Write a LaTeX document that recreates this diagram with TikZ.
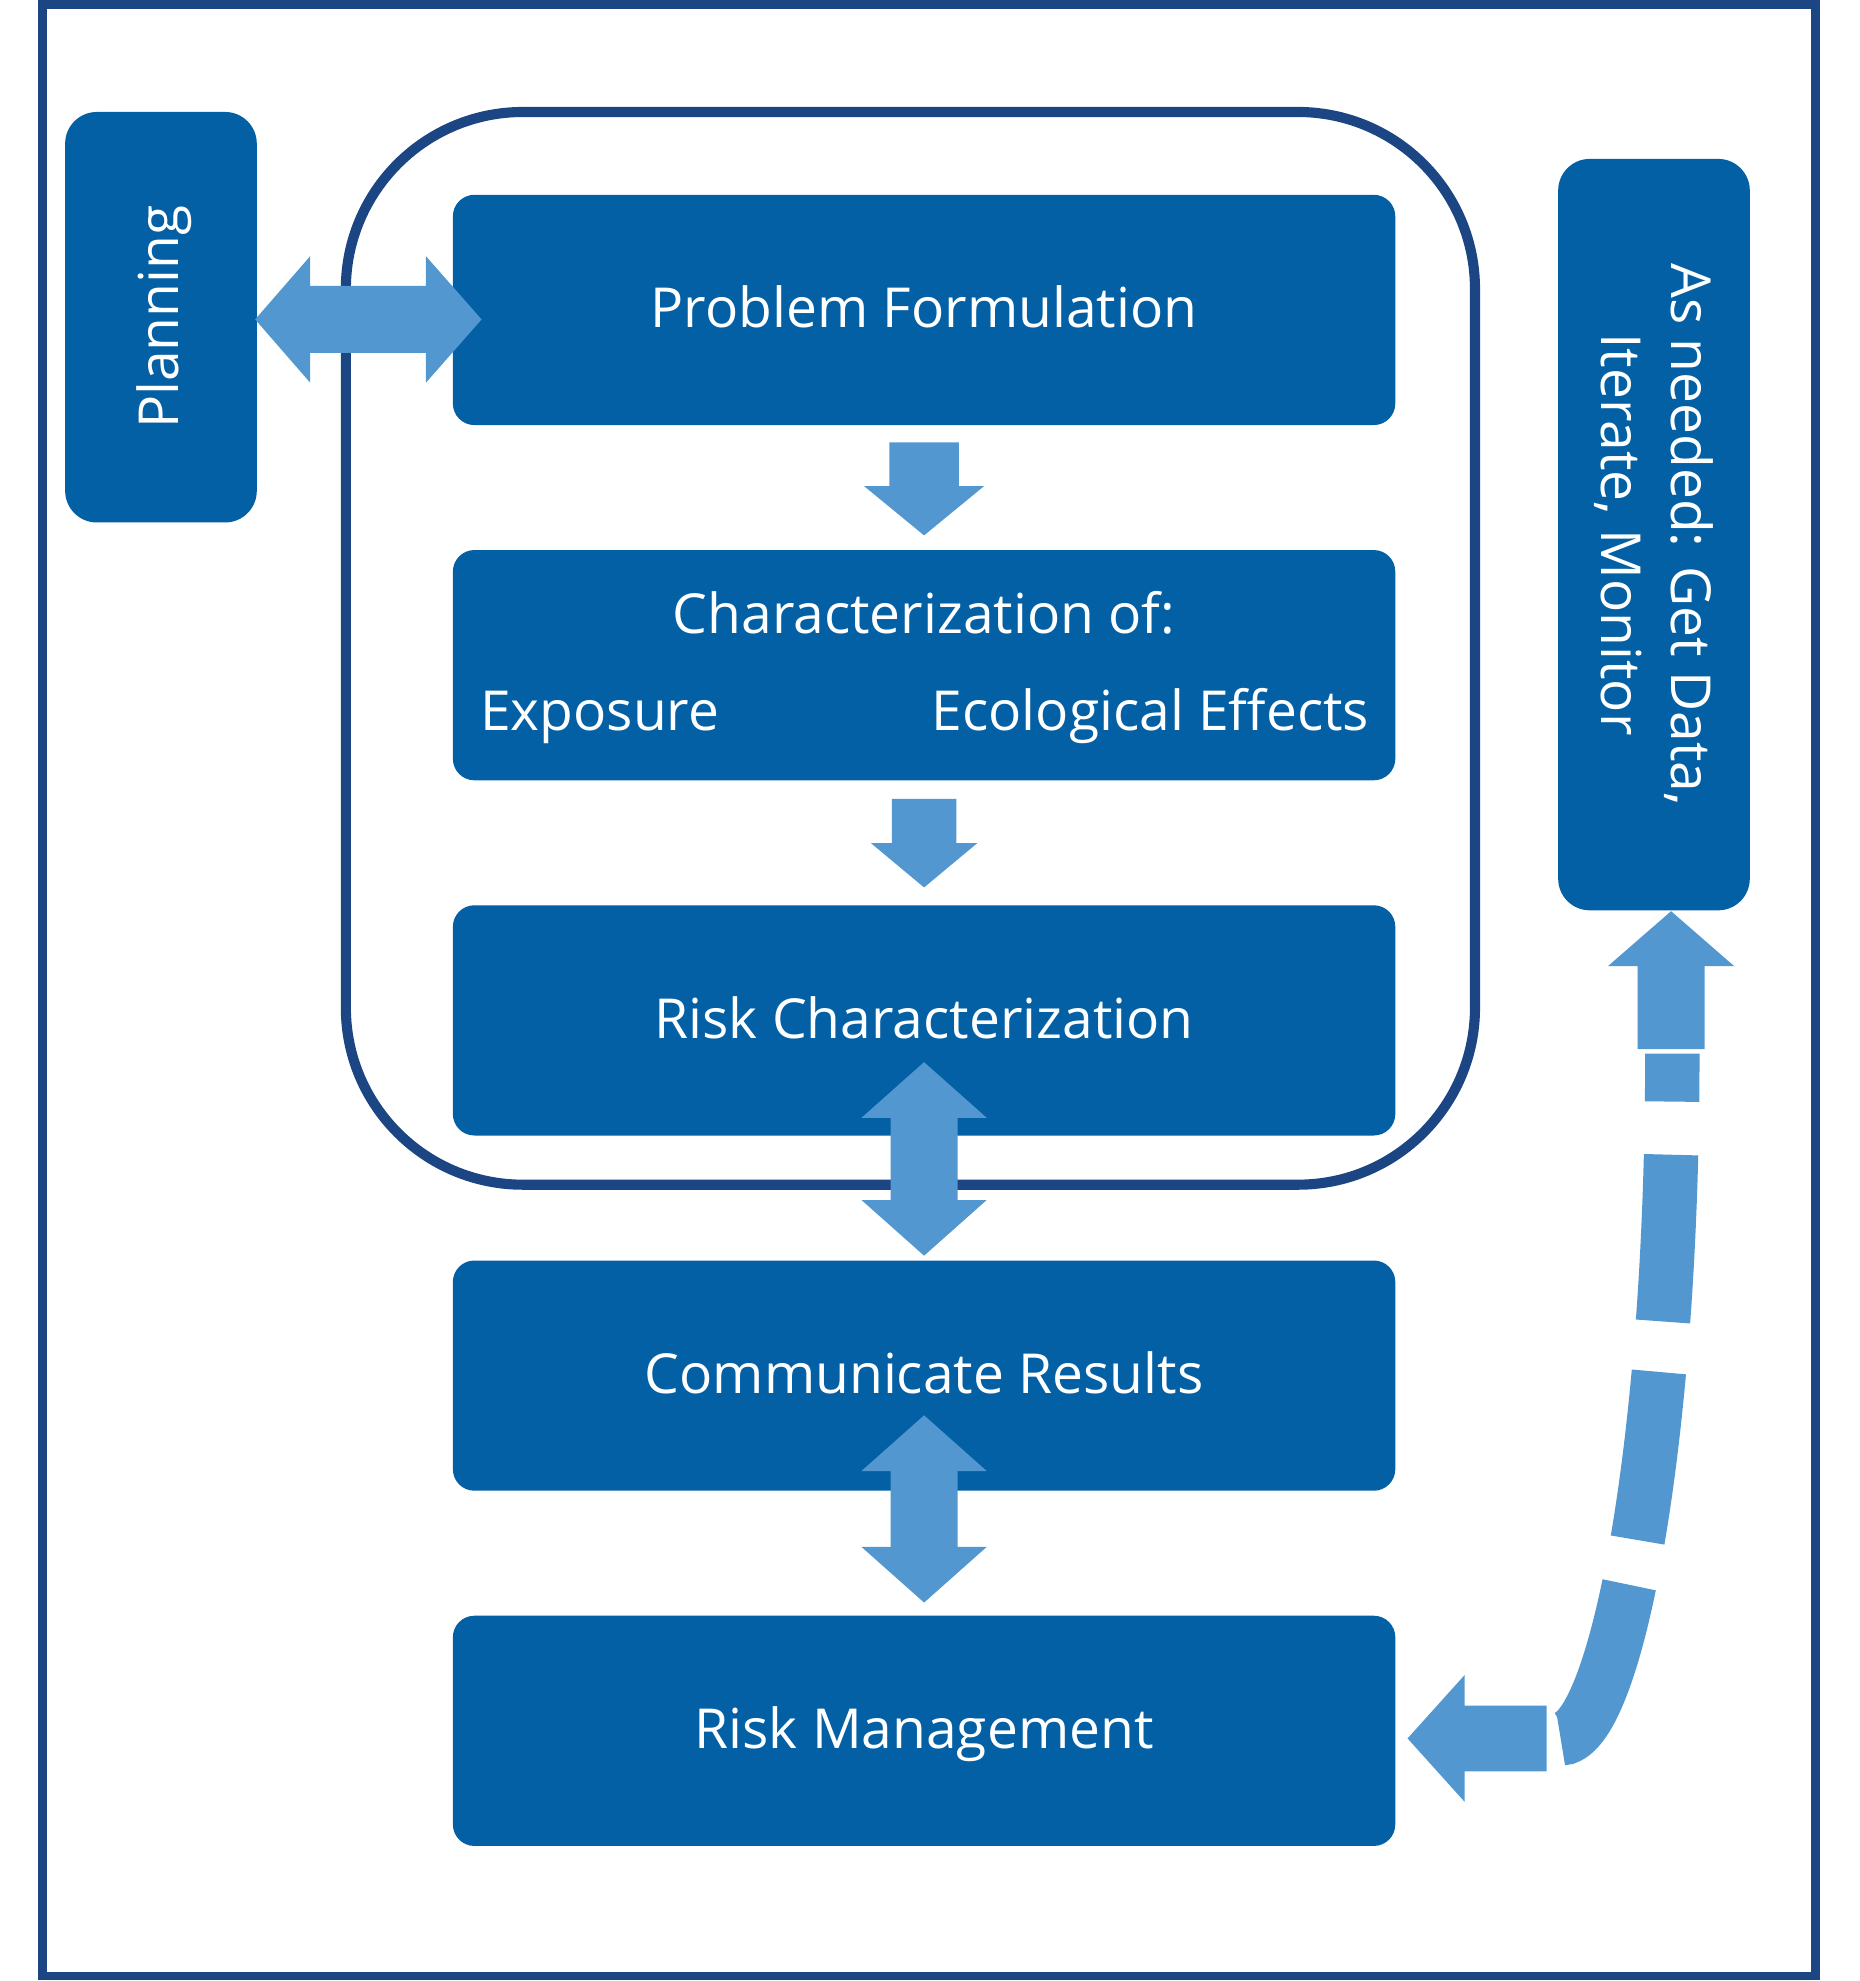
\documentclass[tikz,border=0pt]{standalone}
\usepackage{fontspec}
\setmainfont{Open Sans}
\usepackage{tikz}
\usetikzlibrary{positioning}
\usetikzlibrary{calc}
\definecolor{boxblue}{RGB}{3,96,165}
\definecolor{flowblue}{RGB}{82,151,208}
\definecolor{frameblue}{RGB}{27,69,131}
\tikzset{
	bloc/.style={fill=boxblue, rounded corners=0.17cm, minimum width=7.45cm, minimum height=1.82cm, inner sep=0, text=white, text height=0.31cm, text depth=0.03cm},
	side/.style={fill=boxblue, rounded corners=0.25cm, minimum width=1.515cm, inner sep=0},
	label/.style={text=white, inner sep=0},
	fleche/.style={fill=flowblue},
	fleche dash/.style={draw=flowblue, line width=0.43cm, dash pattern=on 0.38cm off 0.42cm on 1.32cm off 0.40cm on 1.34cm off 0.36cm on 3cm}
}

\begin{document}
\begin{tikzpicture}[y=-1cm, font=\fontsize{12.4}{15.9}\selectfont]
\useasboundingbox (0,0) rectangle (14.70,15.66);

%Cadres
\draw[frameblue, line width=0.07cm] (0.335,0.035) rectangle (14.355,15.62);
\draw[frameblue, line width=0.08cm, rounded corners=1.4cm] (2.734,0.885) rectangle (11.66,9.365);

%Boites principales
\node[bloc] (pf) at (7.305,2.45) {Problem Formulation};
\node[bloc, below=0.974cm of pf] (char) {};
\node[bloc, below=0.974cm of char] (rc) {Risk Characterization};
\node[bloc, below=0.974cm of rc] (comm) {Communicate Results};
\node[bloc, below=0.974cm of comm] (rm) {Risk Management};

\node[label, anchor=base] (charof) at ($(char.center)+(0,-0.25)$) {Characterization of:};
\node[label, anchor=base west] (expo) at ($(char.west)+(0.215,0.52)$) {Exposure};
\node[label, anchor=base east] (ecoeff) at ($(char.east)+(-0.205,0.52)$) {Ecological Effects};

%Boites laterales
\node[side, minimum height=3.245cm] (plan) at (1.2725,2.5075) {};
\node[label, rotate=90, text height=0.31cm, text depth=0.03cm] (plantxt) at (plan.center) {Planning};
\node[side, minimum height=5.94cm] (asn) at (13.075,4.226) {};
\node[label, rotate=-90, align=center] (asntxt) at (asn.center) {As needed: Get Data,\\Iterate, Monitor};

%Fleches
\fill[fleche] ($(plan.east)+(-0.02,0.0175)$) -- ++(0.435,-0.5) -- ++(0,0.235) -- ++(0.915,0) -- ++(0,-0.235) -- ++(0.44,0.5) -- ++(-0.44,0.5) -- ++(0,-0.235) -- ++(-0.915,0) -- ++(0,0.235) -- cycle;

\fill[fleche] ($(pf.south)+(-0.275,0.13)$) -- ++(0.55,0) -- ++(0,0.345) -- ++(0.2,0) -- ++(-0.475,0.39) -- ++(-0.475,-0.39) -- ++(0.2,0) -- cycle;
\fill[fleche] ($(char.south)+(-0.255,0.14)$) -- ++(0.51,0) -- ++(0,0.35) -- ++(0.165,0) -- ++(-0.42,0.35) -- ++(-0.42,-0.35) -- ++(0.165,0) -- cycle;

\fill[fleche] ($(rc.south)+(0,-0.587)$) -- ++(0.495,0.44) -- ++(-0.23,0) -- ++(0,0.65) -- ++(0.23,0) -- ++(-0.495,0.44) -- ++(-0.495,-0.44) -- ++(0.23,0) -- ++(0,-0.65) -- ++(-0.23,0) -- cycle;
\fill[fleche] ($(comm.south)+(0,-0.603)$) -- ++(0.495,0.44) -- ++(-0.23,0) -- ++(0,0.6) -- ++(0.23,0) -- ++(-0.495,0.44) -- ++(-0.495,-0.44) -- ++(0.23,0) -- ++(0,-0.6) -- ++(-0.23,0) -- cycle;

%Retour
\fill[fleche] ($(asn.south)+(0.135,0)$) -- ++(0.5,0.435) -- ++(-0.235,0) -- ++(0,0.655) -- ++(-0.53,0) -- ++(0,-0.655) -- ++(-0.235,0) -- cycle;
\fill[fleche] ($(rm.east)+(0.09,0.06)$) -- ++(0.45,-0.5) -- ++(0,0.24) -- ++(0.65,0) -- ++(0,0.52) -- ++(-0.65,0) -- ++(0,0.24) -- cycle;

\coordinate (dtop) at ($(asn.south)+(0.145,1.125)$);
\coordinate (dbot) at ($(rm.east)+(1.30,0.06)$);
\draw[fleche dash] (dtop) .. controls +(0,3.18) and +(0.42,0) .. (dbot);

\end{tikzpicture}
\end{document}
